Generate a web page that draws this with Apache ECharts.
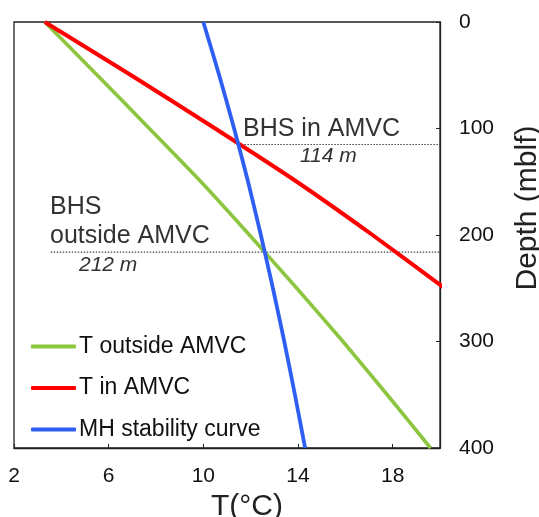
<!DOCTYPE html>
<html>
<head>
<meta charset="utf-8">
<script src="https://cdn.jsdelivr.net/npm/echarts@6/dist/echarts.min.js"></script>
<style>
  html, body { margin: 0; padding: 0; background: #fff; }
  #chart { width: 539px; height: 517px; }
</style>
</head>
<body>
<div id="chart"></div>
<script>
// depth (mblf) for every profile point
var depths = [0, 50, 100, 150, 200, 250, 300, 350, 400];
// temperature profiles (°C)
var tOutside = [3.3, 5.52, 7.72, 9.9, 11.95, 13.95, 15.9, 17.77, 19.6];
var tInDepths = [0, 50, 100, 150, 200, 250];
var tIn = [3.3, 6.95, 10.5, 13.95, 17.15, 20.2];
var mhStability = [10.0, 10.67, 11.3, 11.89, 12.43, 12.94, 13.42, 13.87, 14.3];
// base of hydrate stability (dotted guides)
var bhsIn = [[11.48, 115], [20, 115]];
var bhsOutside = [[3.55, 216], [20, 216]];
var legendNames = ['T outside AMVC', 'T in AMVC', 'MH stability curve'];

function pairs(ts, ds) {
  var out = [];
  for (var i = 0; i < ts.length; i++) out.push([ts[i], ds[i]]);
  return out;
}

var FONT = 'Liberation Sans, Arial, sans-serif';
var chart = echarts.init(document.getElementById('chart'));

var option = {
  animation: false,
  backgroundColor: '#fff',
  grid: {
    left: 14, right: 99, top: 22, bottom: 69,
    outerBoundsMode: 'none',
    show: true, borderColor: '#222', borderWidth: 1.3
  },
  xAxis: {
    type: 'value', min: 2, max: 20, interval: 4, position: 'bottom',
    name: 'T(°C)', nameLocation: 'middle', nameGap: 36,
    nameTextStyle: { fontFamily: FONT, fontSize: 30, color: '#222', padding: [0, 0, 0, 40] },
    axisLine: { show: true, onZero: false, lineStyle: { color: '#222', width: 1.3 } },
    axisTick: { show: true, inside: true, length: 4, lineStyle: { color: '#222' } },
    axisLabel: { fontFamily: FONT, fontSize: 21, color: '#111', margin: 18, showMaxLabel: false },
    splitLine: { show: false }
  },
  yAxis: {
    type: 'value', min: 0, max: 400, interval: 100, inverse: true, position: 'right',
    name: 'Depth (mblf)', nameLocation: 'middle', nameGap: 73,
    nameTextStyle: { fontFamily: FONT, fontSize: 30, color: '#222', padding: [0, 0, 0, 54] },
    axisLine: { show: true, onZero: false, lineStyle: { color: '#222', width: 1.3 } },
    axisTick: { show: true, inside: true, length: 4, lineStyle: { color: '#222' } },
    axisLabel: { fontFamily: FONT, fontSize: 21, color: '#111', margin: 19 },
    splitLine: { show: false }
  },
  legend: {
    data: legendNames,
    orient: 'vertical', left: 26, top: 330,
    itemWidth: 45, itemHeight: 4, itemGap: 18.5,
    icon: 'roundRect',
    selectedMode: false,
    textStyle: { fontFamily: FONT, fontSize: 23, color: '#111', padding: [0, 0, 0, -2] }
  },
  series: [
    {
      name: 'BHS outside line', type: 'line', data: bhsOutside, showSymbol: false, silent: true,
      lineStyle: { color: '#444', width: 1.2, type: [1.5, 1.5] }
    },
    {
      name: 'BHS in line', type: 'line', data: bhsIn, showSymbol: false, silent: true,
      lineStyle: { color: '#444', width: 1.2, type: [1.5, 1.5] }
    },
    {
      name: legendNames[0], type: 'line', data: pairs(tOutside, depths),
      smooth: 0.2, showSymbol: false, clip: false,
      lineStyle: { color: '#8cc63f', width: 3.6 }, itemStyle: { color: '#8cc63f' }
    },
    {
      name: legendNames[1], type: 'line', data: pairs(tIn, tInDepths),
      smooth: 0.2, showSymbol: false, clip: false,
      lineStyle: { color: '#ff0000', width: 4 }, itemStyle: { color: '#ff0000' }
    },
    {
      name: legendNames[2], type: 'line', data: pairs(mhStability, depths),
      smooth: 0.2, showSymbol: false, clip: false,
      lineStyle: { color: '#2f5ff2', width: 3.8 }, itemStyle: { color: '#2f5ff2' }
    }
  ],
  graphic: [
    { type: 'text', left: 243, top: 117, style: { text: 'BHS in AMVC', font: '25px ' + FONT, fill: '#333' } },
    { type: 'text', left: 300, top: 146, style: { text: '114 m', font: 'italic 21px ' + FONT, fill: '#333' } },
    { type: 'text', left: 50, top: 195, style: { text: 'BHS', font: '25px ' + FONT, fill: '#333' } },
    { type: 'text', left: 50, top: 224, style: { text: 'outside AMVC', font: '25px ' + FONT, fill: '#333' } },
    { type: 'text', left: 79, top: 255, style: { text: '212 m', font: 'italic 21px ' + FONT, fill: '#333' } }
  ]
};

chart.setOption(option);
</script>
</body>
</html>
